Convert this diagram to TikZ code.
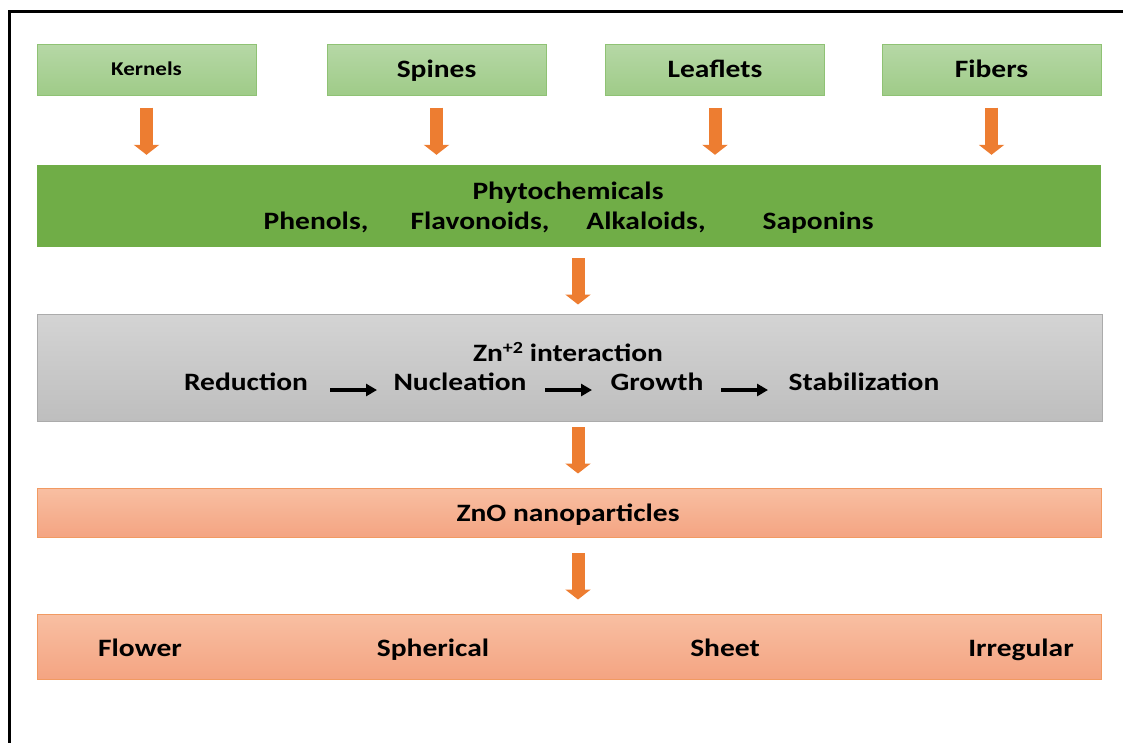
\documentclass[tikz,border=0pt]{standalone}
\usepackage{fontspec}
\setmainfont{Carlito}[FakeStretch=1.18]
\usetikzlibrary{arrows.meta}
\definecolor{gtop}{HTML}{B6D8A6}
\definecolor{gbot}{HTML}{9FCB88}
\definecolor{gline}{HTML}{8FC274}
\definecolor{phyto}{HTML}{70AD47}
\definecolor{ytop}{HTML}{D4D4D4}
\definecolor{ybot}{HTML}{BEBEBE}
\definecolor{yline}{HTML}{ABABAB}
\definecolor{otop}{HTML}{F8BFA2}
\definecolor{obot}{HTML}{F4A482}
\definecolor{oline}{HTML}{F19A62}
\definecolor{oarrow}{HTML}{ED7D31}
\tikzset{
  bigtxt/.style={font=\fontsize{25}{30}\selectfont\bfseries, text=black, text height=16.1pt, text depth=0pt},
  greenbox/.style={rectangle, draw=gline, line width=1pt, top color=gtop, bottom color=gbot, minimum width=219pt, minimum height=51pt, inner sep=0pt, bigtxt},
  phytobox/.style={rectangle, fill=phyto, draw=phyto, minimum width=1063pt, minimum height=81pt, inner sep=0pt},
  graybox/.style={rectangle, draw=yline, line width=1pt, top color=ytop, bottom color=ybot, minimum width=1065pt, minimum height=107pt, inner sep=0pt},
  orangebox/.style={rectangle, draw=oline, line width=1pt, top color=otop, bottom color=obot, minimum width=1064pt, inner sep=0pt},
  lbl/.style={inner sep=0pt, anchor=center, bigtxt},
  fatarrow/.style={draw=oarrow, line width=13pt, -{Triangle[width=25pt,length=10pt]}},
  thinarrow/.style={draw=black, line width=3.3pt, -{Triangle[width=12pt,length=11pt]}},
}
\begin{document}
\begin{tikzpicture}[x=1pt,y=-1pt]
\useasboundingbox (0,0) rectangle (1123,742);
\draw[line width=3pt, line cap=rect] (9,742) -- (9,11) -- (1123,11);

% top boxes
\node[greenbox, font=\fontsize{19.5}{24}\selectfont\bfseries, text height=12.6pt] (kern) at (146.5,69.5) {Kernels};
\node[greenbox] (spin) at (436.5,69.5) {Spines};
\node[greenbox] (leaf) at (715,69.5) {Leaflets};
\node[greenbox] (fib) at (991.5,69.5) {Fibers};

% phytochemicals
\node[phytobox] (phy) at (568.5,205.5) {};
\node[lbl] (phyt) at (568,191) {Phytochemicals};
\node[lbl] (phen) at (316,221) {Phenols,};
\node[lbl] (flav) at (480,221) {Flavonoids,};
\node[lbl] (alka) at (646,221) {Alkaloids,};
\node[lbl] (sapo) at (818,221) {Saponins};

% gray box
\node[graybox] (zn) at (569.5,367.5) {};
\node[lbl] (znt) at (568,353) {Zn{\fontsize{17}{20}\selectfont\raisebox{7.5pt}{+2}} interaction};
\node[lbl] (red) at (246,382) {Reduction};
\node[lbl] (nuc) at (460,382) {Nucleation};
\node[lbl] (gro) at (657,382) {Growth};
\node[lbl] (sta) at (864,382) {Stabilization};

% ZnO box
\node[orangebox, minimum height=49pt] (zno) at (569,512.5) {};
\node[lbl] (znot) at (568,513) {ZnO nanoparticles};

% shapes box
\node[orangebox, minimum height=65pt] (shp) at (569,646.5) {};
\node[lbl] (flo) at (140,648) {Flower};
\node[lbl] (sph) at (433,648) {Spherical};
\node[lbl] (she) at (725,648) {Sheet};
\node[lbl] (irr) at (1021,648) {Irregular};

% orange arrows from top boxes
\foreach \b in {kern,spin,leaf,fib}{
  \draw[fatarrow, shorten <=12pt, shorten >=10pt] (\b.south) -- (\b.south |- phy.north);
}
% middle orange arrows
\coordinate (c1) at (578,246);
\coordinate (c2) at (578,421);
\coordinate (c3) at (578,537);
\draw[fatarrow, shorten <=12pt, shorten >=9pt] (c1) -- (c1 |- zn.north);
\draw[fatarrow, shorten <=6pt, shorten >=14pt] (c2) -- (c2 |- zno.north);
\draw[fatarrow, shorten <=16pt, shorten >=14pt] (c3) -- (c3 |- shp.north);

% black arrows
\coordinate (a1s) at (330,390); \coordinate (a1e) at (377,390);
\coordinate (a2s) at (545,390); \coordinate (a2e) at (592,390);
\coordinate (a3s) at (721,390); \coordinate (a3e) at (768,390);
\draw[thinarrow] (a1s) -- (a1e);
\draw[thinarrow] (a2s) -- (a2e);
\draw[thinarrow] (a3s) -- (a3e);
\end{tikzpicture}
\end{document}
